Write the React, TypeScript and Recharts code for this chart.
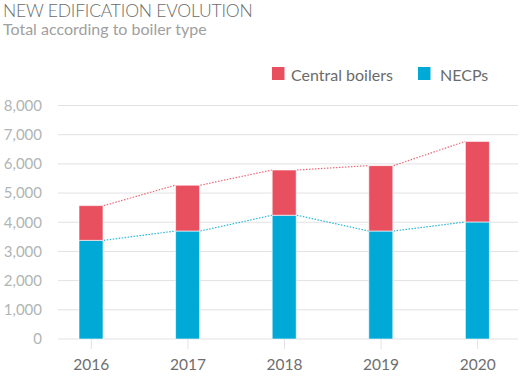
import React from 'react';
import { ComposedChart, Bar, Line, XAxis, YAxis, CartesianGrid } from 'recharts';

const years = ['2016', '2017', '2018', '2019', '2020'];
const necpValues = [3380, 3700, 4240, 3700, 4010];
const centralValues = [1190, 1570, 1550, 2240, 2760];
const yTicks = [0, 1000, 2000, 3000, 4000, 5000, 6000, 7000, 8000];

const RED = '#E8505F';
const CYAN = '#00A9D6';
const BAR_SIZE = 24;

const data = years.map((year, i) => ({
  year,
  necp: necpValues[i],
  central: centralValues[i],
  total: necpValues[i] + centralValues[i],
}));

const makeConnector = (color: string) => (props: any) => {
  const { cx, cy, index, points } = props;
  const next = points && points[index + 1];
  if (!next || cx == null || cy == null) return <g key={`c-${index}`} />;
  return (
    <line
      key={`c-${index}`}
      x1={cx + BAR_SIZE / 2 + 0.5}
      y1={cy}
      x2={next.x - BAR_SIZE / 2 - 0.5}
      y2={next.y}
      stroke={color}
      strokeWidth={1.2}
      strokeDasharray="1.5 1.5"
      strokeOpacity={0.85}
    />
  );
};

const gridLine = (props: any) => (
  <line
    key={`g-${props.y1}`}
    x1={props.x1 + 15}
    x2={props.x2 - 8}
    y1={props.y1}
    y2={props.y2}
    stroke="#e2e2e2"
    strokeWidth={1}
  />
);

export default function App() {
  return (
    <div style={{ position: 'fixed', left: 0, top: 0, width: 526, height: 378, background: '#fff', fontFamily: 'Lato' }}>
      <ComposedChart
        width={526}
        height={378}
        data={data}
        margin={{ top: 105.5, right: 0, bottom: 0, left: 0 }}
      >
        <CartesianGrid vertical={false} horizontal={gridLine} />
        <XAxis
          dataKey="year"
          axisLine={false}
          tickLine={{ stroke: '#e2e2e2' }}
          tickSize={10}
          tickMargin={10}
          height={39}
          tick={{ fill: '#6e6e6e', fontSize: 15.5, fontFamily: 'Lato', fontWeight: 400 }}
          interval={0}
        />
        <YAxis
          domain={[0, 8000]}
          ticks={yTicks}
          width={43}
          axisLine={false}
          tickLine={false}
          tickSize={0}
          tickMargin={1}
          tickFormatter={(v: number) => v.toLocaleString('en-US')}
          tick={{ fill: '#b0b5b5', fontSize: 15, fontFamily: 'Lato', fontWeight: 400 }}
        />
        <Bar dataKey="necp" stackId="a" fill={CYAN} stroke="#ffffff" strokeOpacity={0.6} barSize={BAR_SIZE} isAnimationActive={false} />
        <Bar dataKey="central" stackId="a" fill={RED} stroke="#ffffff" strokeOpacity={0.6} barSize={BAR_SIZE} isAnimationActive={false} />
        <Line dataKey="necp" stroke="none" dot={makeConnector(CYAN)} activeDot={false} legendType="none" isAnimationActive={false} />
        <Line dataKey="total" stroke="none" dot={makeConnector(RED)} activeDot={false} legendType="none" isAnimationActive={false} />
      </ComposedChart>
      <div style={{ position: 'absolute', left: 3, top: 2, fontSize: 17.5, lineHeight: '17.5px', fontWeight: 300, letterSpacing: -0.2, color: '#6b6b6b', whiteSpace: 'nowrap' }}>
        NEW EDIFICATION EVOLUTION
      </div>
      <div style={{ position: 'absolute', left: 3, top: 20.8, fontSize: 16, lineHeight: '16px', fontWeight: 400, color: '#a0a0a0', whiteSpace: 'nowrap' }}>
        Total according to boiler type
      </div>
      <svg width={526} height={100} style={{ position: 'absolute', left: 0, top: 0 }}>
        <rect x={272} y={67} width={12.5} height={13} fill={RED} />
        <text x={291} y={80.5} fontSize={16} fontWeight={400} fill="#6b6b6b" fontFamily="Lato">Central boilers</text>
        <rect x={418} y={67} width={12.5} height={13} fill={CYAN} />
        <text x={440} y={80.5} fontSize={16} fontWeight={400} fill="#6b6b6b" fontFamily="Lato">NECPs</text>
      </svg>
    </div>
  );
}
